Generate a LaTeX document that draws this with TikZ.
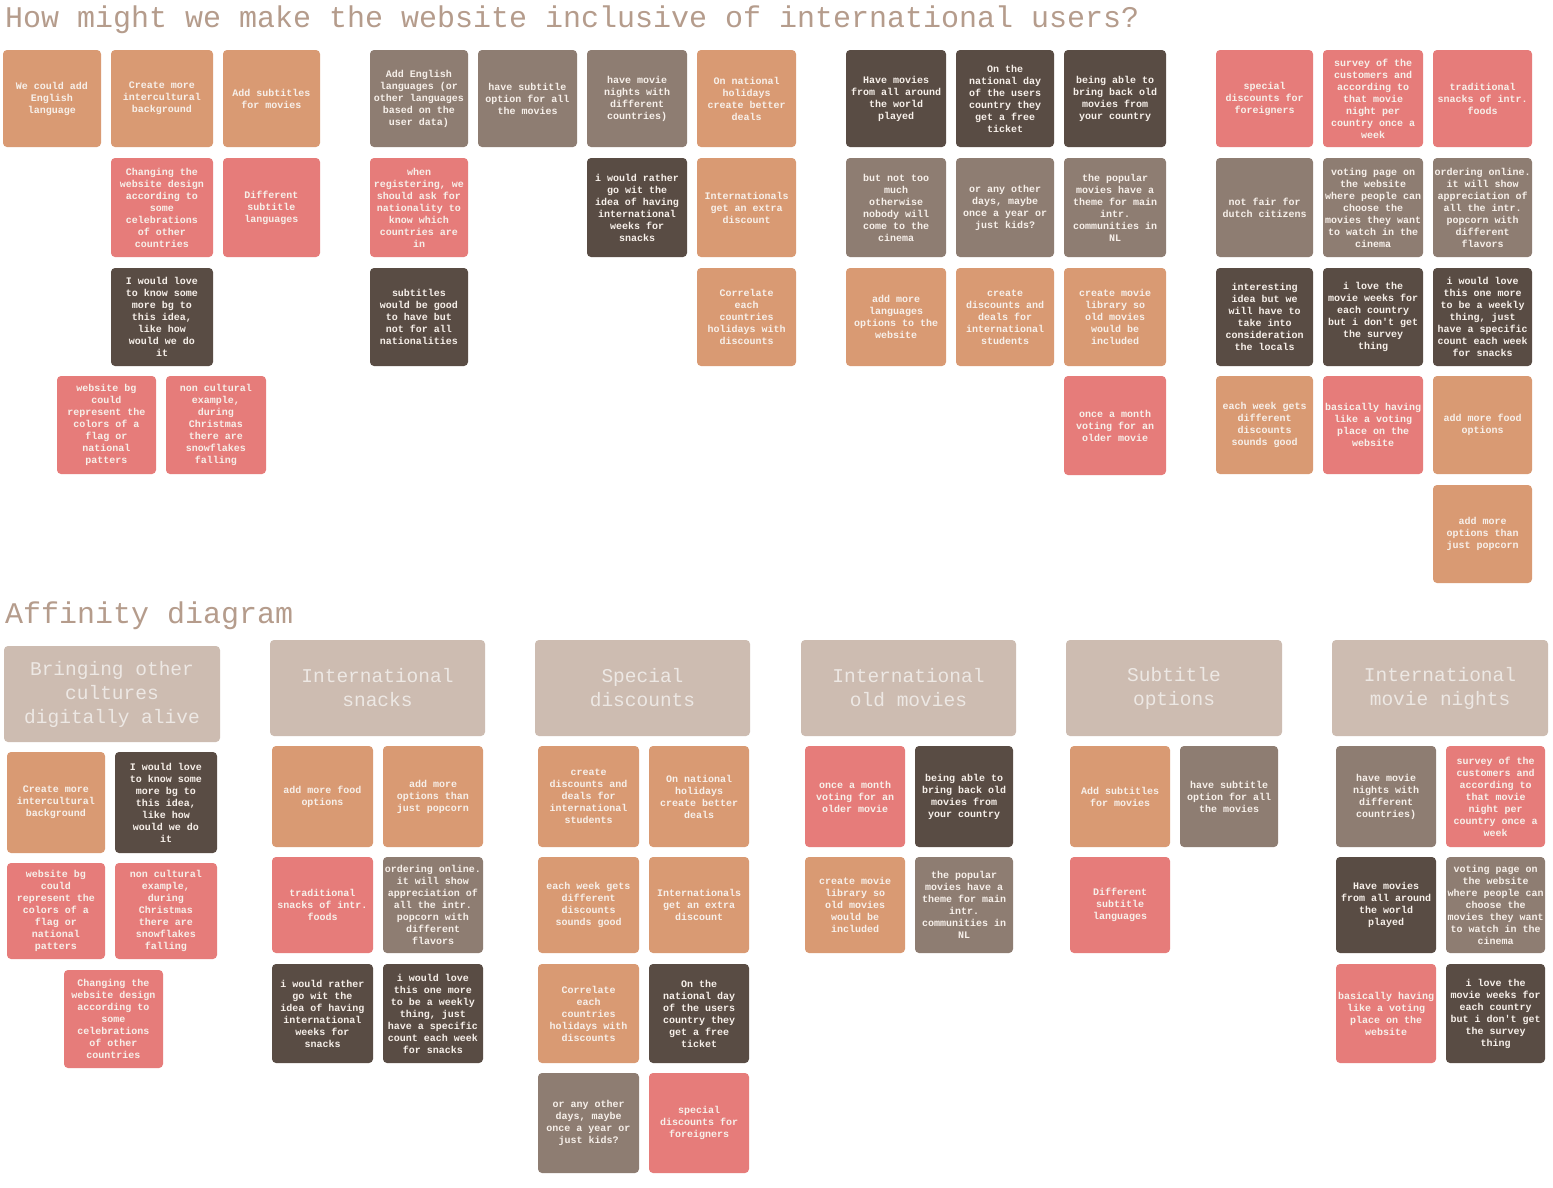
\documentclass[tikz,border=0pt]{standalone}
\usepackage{fontspec}
\newfontfamily\monof{Liberation Mono}
\definecolor{cOr}{HTML}{D99A73}
\definecolor{cPk}{HTML}{E67C7A}
\definecolor{cGr}{HTML}{8E7D72}
\definecolor{cDk}{HTML}{594C44}
\definecolor{cHd}{HTML}{CDBCB1}
\definecolor{cHdT}{HTML}{EDE8E4}
\definecolor{cTxt}{HTML}{F7F0EA}
\definecolor{cTitle}{HTML}{B59C8C}
\newcommand\mynote[7]{%
  \pgfmathsetmacro\stkw{#5-#3}\pgfmathsetmacro\stkh{#6-#4}%
  \pgfmathsetmacro\stkx{(#3+#5)/2}\pgfmathsetmacro\stky{(#4+#6)/2}%
  \node[#2, minimum width=\stkw pt, minimum height=\stkh pt] (#1) at (\stkx,\stky) {#7};}
\tikzset{
  notebox/.style={rounded corners=4pt, inner sep=0pt, align=center, text=cTxt,
    font=\monof\bfseries\fontsize{10}{12}\selectfont},
  ornote/.style={notebox, fill=cOr},
  pknote/.style={notebox, fill=cPk},
  grnote/.style={notebox, fill=cGr},
  dknote/.style={notebox, fill=cDk},
  headbox/.style={rounded corners=4pt, inner sep=0pt, align=center, text=cHdT, fill=cHd,
    font=\monof\fontsize{19.5}{24}\selectfont},
  titletext/.style={anchor=base west, inner sep=0pt, text=cTitle,
    font=\monof\fontsize{30}{36}\selectfont}
}
\begin{document}
\begin{tikzpicture}[x=1pt,y=-1pt]
\useasboundingbox (0,0) rectangle (1553,1187);
\fill[white] (0,0) rectangle (1553,1187);
\node[titletext] (title) at (5,27) {How might we make the website inclusive of international users?};
\node[titletext] (affinity) at (5,623) {Affinity diagram};
% ---- cluster 1
\mynote{a1}{ornote}{3}{50}{101}{147}{We could add\\English\\language}
\mynote{a2}{ornote}{111}{50}{213}{147}{Create more\\intercultural\\background}
\mynote{a3}{ornote}{223}{50}{320}{147}{Add subtitles\\for movies}
\mynote{a4}{pknote}{111}{158}{213}{257}{Changing the\\website design\\according to\\some\\celebrations\\of other\\countries}
\mynote{a5}{pknote}{223}{158}{320}{257}{Different\\subtitle\\languages}
\mynote{a6}{dknote}{111}{268}{213}{366}{I would love\\to know some\\more bg to\\this idea,\\like how\\would we do\\it}
\mynote{a7}{pknote}{57}{376}{156}{474}{website bg\\could\\represent the\\colors of a\\flag or\\national\\patters}
\mynote{a8}{pknote}{166}{376}{266}{474}{non cultural\\example,\\during\\Christmas\\there are\\snowflakes\\falling}
% ---- cluster 2
\mynote{b1}{grnote}{370}{50}{468}{147}{Add English\\languages (or\\other languages\\based on the\\user data)}
\mynote{b2}{grnote}{478}{50}{577}{147}{have subtitle\\option for all\\the movies}
\mynote{b3}{grnote}{587}{50}{687}{147}{have movie\\nights with\\different\\countries)}
\mynote{b4}{ornote}{697}{50}{796}{147}{On national\\holidays\\create better\\deals}
\mynote{b5}{pknote}{370}{158}{468}{257}{when\\registering, we\\should ask for\\nationality to\\know which\\countries are\\in}
\mynote{b6}{dknote}{587}{158}{687}{257}{i would rather\\go wit the\\idea of having\\international\\weeks for\\snacks}
\mynote{b7}{ornote}{697}{158}{796}{257}{Internationals\\get an extra\\discount}
\mynote{b8}{dknote}{370}{268}{468}{366}{subtitles\\would be good\\to have but\\not for all\\nationalities}
\mynote{b9}{ornote}{697}{268}{796}{366}{Correlate\\each\\countries\\holidays with\\discounts}
% ---- cluster 3
\mynote{c1}{dknote}{846}{50}{946}{147}{Have movies\\from all around\\the world\\played}
\mynote{c2}{dknote}{956}{50}{1054}{147}{On the\\national day\\of the users\\country they\\get a free\\ticket}
\mynote{c3}{dknote}{1064}{50}{1166}{147}{being able to\\bring back old\\movies from\\your country}
\mynote{c4}{grnote}{846}{158}{946}{257}{but not too\\much\\otherwise\\nobody will\\come to the\\cinema}
\mynote{c5}{grnote}{956}{158}{1054}{257}{or any other\\days, maybe\\once a year or\\just kids?}
\mynote{c6}{grnote}{1064}{158}{1166}{257}{the popular\\movies have a\\theme for main\\intr.\\communities in\\NL}
\mynote{c7}{ornote}{846}{268}{946}{366}{add more\\languages\\options to the\\website}
\mynote{c8}{ornote}{956}{268}{1054}{366}{create\\discounts and\\deals for\\international\\students}
\mynote{c9}{ornote}{1064}{268}{1166}{366}{create movie\\library so\\old movies\\would be\\included}
\mynote{c10}{pknote}{1064}{376}{1166}{475}{once a month\\voting for an\\older movie}
% ---- cluster 4
\mynote{d1}{pknote}{1216}{50}{1313}{147}{special\\discounts for\\foreigners}
\mynote{d2}{pknote}{1323}{50}{1423}{147}{survey of the\\customers and\\according to\\that movie\\night per\\country once a\\week}
\mynote{d3}{pknote}{1433}{50}{1532}{147}{traditional\\snacks of intr.\\foods}
\mynote{d4}{grnote}{1216}{158}{1313}{257}{not fair for\\dutch citizens}
\mynote{d5}{grnote}{1323}{158}{1423}{257}{voting page on\\the website\\where people can\\choose the\\movies they want\\to watch in the\\cinema}
\mynote{d6}{grnote}{1433}{158}{1532}{257}{ordering online.\\it will show\\appreciation of\\all the intr.\\popcorn with\\different\\flavors}
\mynote{d7}{dknote}{1216}{268}{1313}{366}{interesting\\idea but we\\will have to\\take into\\consideration\\the locals}
\mynote{d8}{dknote}{1323}{268}{1423}{366}{i love the\\movie weeks for\\each country\\but i don't get\\the survey\\thing}
\mynote{d9}{dknote}{1433}{268}{1532}{366}{i would love\\this one more\\to be a weekly\\thing, just\\have a specific\\count each week\\for snacks}
\mynote{d10}{ornote}{1216}{376}{1313}{474}{each week gets\\different\\discounts\\sounds good}
\mynote{d11}{pknote}{1323}{376}{1423}{474}{basically having\\like a voting\\place on the\\website}
\mynote{d12}{ornote}{1433}{376}{1532}{474}{add more food\\options}
\mynote{d13}{ornote}{1433}{485}{1532}{583}{add more\\options than\\just popcorn}
% ==== Affinity diagram
\mynote{h1}{headbox}{4}{646}{220}{742}{Bringing other\\cultures\\digitally alive}
\mynote{e1}{ornote}{7}{752}{105}{853}{Create more\\intercultural\\background}
\mynote{e2}{dknote}{115}{752}{217}{853}{I would love\\to know some\\more bg to\\this idea,\\like how\\would we do\\it}
\mynote{e3}{pknote}{7}{863}{105}{959}{website bg\\could\\represent the\\colors of a\\flag or\\national\\patters}
\mynote{e4}{pknote}{115}{863}{217}{959}{non cultural\\example,\\during\\Christmas\\there are\\snowflakes\\falling}
\mynote{e5}{pknote}{64}{970}{163}{1068}{Changing the\\website design\\according to\\some\\celebrations\\of other\\countries}
%
\mynote{h2}{headbox}{270}{640}{485}{736}{International\\snacks}
\mynote{f1}{ornote}{272}{746}{373}{847}{add more food\\options}
\mynote{f2}{ornote}{383}{746}{483}{847}{add more\\options than\\just popcorn}
\mynote{f3}{pknote}{272}{857}{373}{953}{traditional\\snacks of intr.\\foods}
\mynote{f4}{grnote}{383}{857}{483}{953}{ordering online.\\it will show\\appreciation of\\all the intr.\\popcorn with\\different\\flavors}
\mynote{f5}{dknote}{272}{964}{373}{1063}{i would rather\\go wit the\\idea of having\\international\\weeks for\\snacks}
\mynote{f6}{dknote}{383}{964}{483}{1063}{i would love\\this one more\\to be a weekly\\thing, just\\have a specific\\count each week\\for snacks}
%
\mynote{h3}{headbox}{535}{640}{750}{736}{Special\\discounts}
\mynote{g1}{ornote}{538}{746}{639}{847}{create\\discounts and\\deals for\\international\\students}
\mynote{g2}{ornote}{649}{746}{749}{847}{On national\\holidays\\create better\\deals}
\mynote{g3}{ornote}{538}{857}{639}{953}{each week gets\\different\\discounts\\sounds good}
\mynote{g4}{ornote}{649}{857}{749}{953}{Internationals\\get an extra\\discount}
\mynote{g5}{ornote}{538}{964}{639}{1063}{Correlate\\each\\countries\\holidays with\\discounts}
\mynote{g6}{dknote}{649}{964}{749}{1063}{On the\\national day\\of the users\\country they\\get a free\\ticket}
\mynote{g7}{grnote}{538}{1073}{639}{1173}{or any other\\days, maybe\\once a year or\\just kids?}
\mynote{g8}{pknote}{649}{1073}{749}{1173}{special\\discounts for\\foreigners}
%
\mynote{h4}{headbox}{801}{640}{1016}{736}{International\\old movies}
\mynote{i1}{pknote}{805}{746}{905}{847}{once a month\\voting for an\\older movie}
\mynote{i2}{dknote}{915}{746}{1013}{847}{being able to\\bring back old\\movies from\\your country}
\mynote{i3}{ornote}{805}{857}{905}{953}{create movie\\library so\\old movies\\would be\\included}
\mynote{i4}{grnote}{915}{857}{1013}{953}{the popular\\movies have a\\theme for main\\intr.\\communities in\\NL}
%
\mynote{h5}{headbox}{1066}{640}{1282}{736}{Subtitle\\options}
\mynote{j1}{ornote}{1070}{746}{1170}{847}{Add subtitles\\for movies}
\mynote{j2}{grnote}{1180}{746}{1278}{847}{have subtitle\\option for all\\the movies}
\mynote{j3}{pknote}{1070}{857}{1170}{953}{Different\\subtitle\\languages}
%
\mynote{h6}{headbox}{1332}{640}{1548}{736}{International\\movie nights}
\mynote{k1}{grnote}{1336}{746}{1436}{847}{have movie\\nights with\\different\\countries)}
\mynote{k2}{pknote}{1446}{746}{1545}{847}{survey of the\\customers and\\according to\\that movie\\night per\\country once a\\week}
\mynote{k3}{dknote}{1336}{857}{1436}{953}{Have movies\\from all around\\the world\\played}
\mynote{k4}{grnote}{1446}{857}{1545}{953}{voting page on\\the website\\where people can\\choose the\\movies they want\\to watch in the\\cinema}
\mynote{k5}{pknote}{1336}{964}{1436}{1063}{basically having\\like a voting\\place on the\\website}
\mynote{k6}{dknote}{1446}{964}{1545}{1063}{i love the\\movie weeks for\\each country\\but i don't get\\the survey\\thing}
\end{tikzpicture}
\end{document}
